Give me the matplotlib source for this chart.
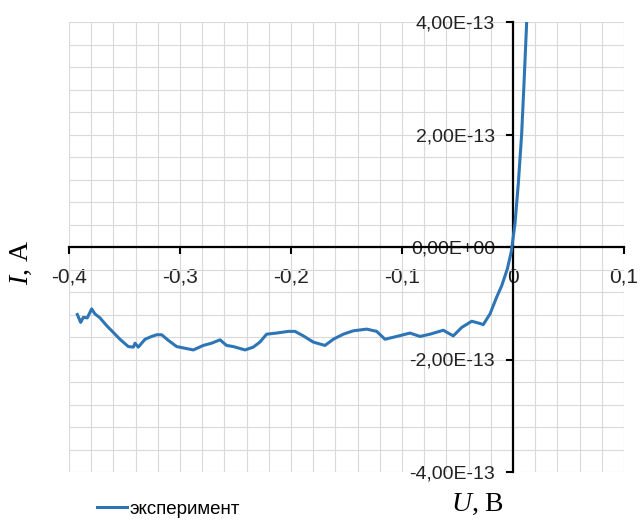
##Вольт-амперная характеристика: эксперимент

import matplotlib.pyplot as plt
import numpy as np
from matplotlib.ticker import MultipleLocator, FuncFormatter

#напряжение U, В
u_data = [-0.3925, -0.3895, -0.3871, -0.3835, -0.3796, -0.3766, -0.3721,
          -0.366, -0.360, -0.3541, -0.3466, -0.342, -0.3405, -0.3376,
          -0.3315, -0.3255, -0.321, -0.3165, -0.3105, -0.303, -0.2955,
          -0.288, -0.279, -0.2715, -0.264, -0.258, -0.252, -0.2414, -0.234,
          -0.228, -0.222, -0.213, -0.2024, -0.1964, -0.1889, -0.180,
          -0.1694, -0.1619, -0.1529, -0.1439, -0.1318, -0.1228, -0.1153,
          -0.1048, -0.0928, -0.0838, -0.0748, -0.0628, -0.0538, -0.0462,
          -0.0372, -0.0297, -0.0268, -0.0207, -0.0147, -0.0102, -0.0051,
          -0.0015, 0.0018, 0.0048, 0.0078, 0.0099, 0.0123]

#ток I, единицы 1E-13 А
i_data = [-1.20, -1.34, -1.25, -1.26, -1.10, -1.19, -1.26,
          -1.40, -1.52, -1.64, -1.77, -1.78, -1.71, -1.78,
          -1.64, -1.59, -1.56, -1.56, -1.66, -1.77, -1.80,
          -1.83, -1.75, -1.71, -1.65, -1.75, -1.77, -1.83, -1.78,
          -1.69, -1.55, -1.53, -1.50, -1.50, -1.58, -1.69,
          -1.75, -1.64, -1.55, -1.49, -1.46, -1.50, -1.64,
          -1.59, -1.53, -1.59, -1.55, -1.48, -1.58, -1.43,
          -1.32, -1.36, -1.38, -1.19, -0.89, -0.69, -0.39,
          -0.08, 0.42, 1.13, 2.01, 2.90, 3.99]

u = np.array(u_data)
i = np.array(i_data) * 1e-13

#шрифты
plt.rcParams['font.family'] = ['Liberation Sans', 'DejaVu Sans']
plt.rcParams['mathtext.fontset'] = 'custom'
plt.rcParams['mathtext.rm'] = 'Liberation Serif'
plt.rcParams['mathtext.it'] = 'Liberation Serif:italic'

fig = plt.figure(figsize=(6.4, 5.21), dpi=100)
ax = fig.add_axes([69 / 640, 49 / 521, 555 / 640, 450 / 521])

#кривая
ax.plot(u, i, color='#2e75b6', lw=2.2, label='эксперимент', zorder=5)

#диапазоны осей
ax.set_xlim(-0.4, 0.1)
ax.set_ylim(-4e-13, 4e-13)

#сетка
ax.xaxis.set_major_locator(MultipleLocator(0.1))
ax.xaxis.set_minor_locator(MultipleLocator(0.02))
ax.yaxis.set_major_locator(MultipleLocator(2e-13))
ax.yaxis.set_minor_locator(MultipleLocator(0.4e-13))
ax.grid(True, which='both', color='#d9d9d9', lw=0.8)
ax.set_axisbelow(True)

#оси через начало координат
for s in ['top', 'right']:
    ax.spines[s].set_visible(False)
ax.spines['left'].set_position(('data', 0))
ax.spines['bottom'].set_position(('data', 0))
ax.spines['left'].set_linewidth(1.6)
ax.spines['bottom'].set_linewidth(1.6)
ax.spines['left'].set_zorder(4)
ax.spines['bottom'].set_zorder(4)

def fmt_x(v, pos):
    if abs(v) < 1e-9:
        return '0'
    return f'{v:.1f}'.replace('.', ',')

def fmt_y(v, pos):
    if abs(v) < 1e-20:
        v = 0.0
    return f'{v:.2E}'.replace('.', ',')

ax.xaxis.set_major_formatter(FuncFormatter(fmt_x))
ax.yaxis.set_major_formatter(FuncFormatter(fmt_y))
ax.tick_params(which='minor', length=0)
ax.tick_params(axis='x', which='major', direction='out', length=5, width=1.5,
               pad=10, labelsize=15, labelcolor='#222222')
ax.tick_params(axis='y', which='major', direction='out', length=5, width=1.5,
               pad=8, labelsize=14, labelcolor='#222222')

#подписи осей
fig.text(21 / 640, 1 - 262 / 521, r'$I$, A', rotation=90, ha='center', va='center',
         fontsize=20, family='Liberation Serif')
fig.text(478 / 640, 1 - 504 / 521, r'$U$, B', ha='center', va='center',
         fontsize=20, family='Liberation Serif')

#легенда
ax.legend(loc='center left', bbox_to_anchor=(89 / 640, 1 - 509 / 521),
          bbox_transform=fig.transFigure, frameon=False, fontsize=13.5,
          handlelength=1.6, handletextpad=0.15, borderaxespad=0)

fig.savefig('out.png', dpi=100)
